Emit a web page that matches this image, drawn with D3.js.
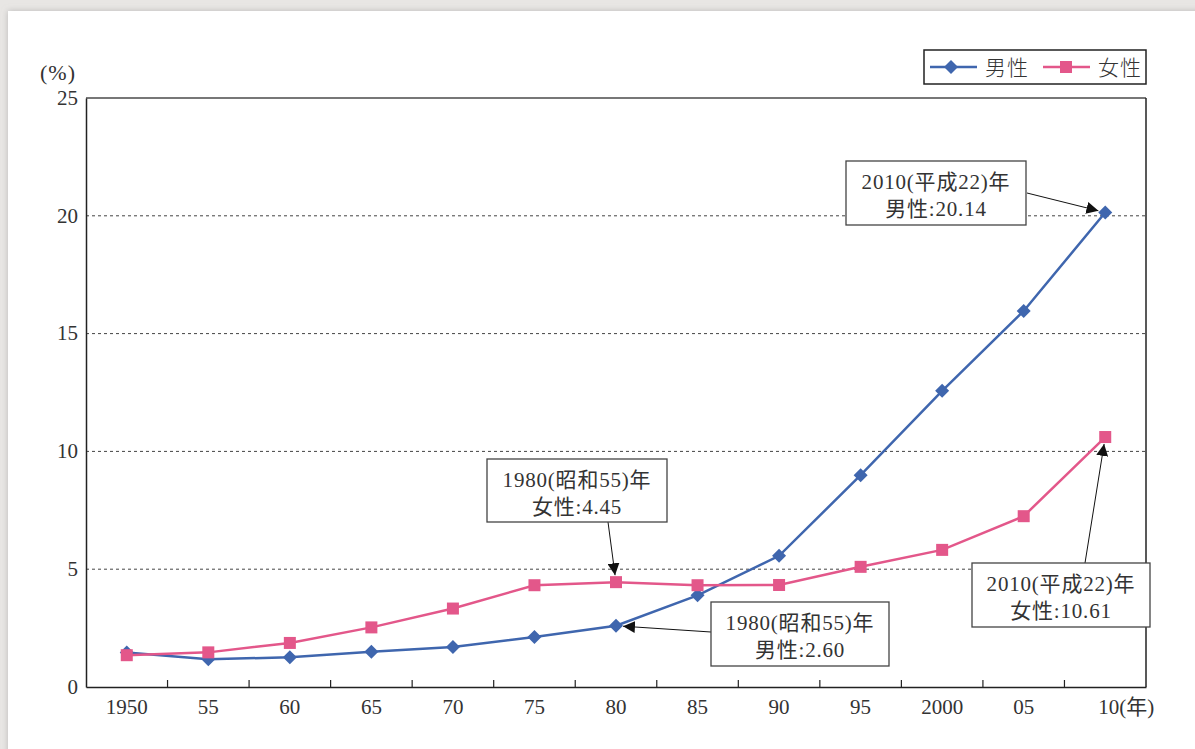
<!DOCTYPE html>
<html>
<head>
<meta charset="utf-8">
<script src="https://cdn.jsdelivr.net/npm/d3@7"></script>
<style>
  html, body { margin: 0; padding: 0; background: #e6e4e2; }
  svg { display: block; }
  text { font-family: "Liberation Serif", "DejaVu Serif", "Noto Sans CJK JP", serif; fill: #333; }
</style>
</head>
<body>
<svg id="chart" width="1195" height="749"></svg>
<script>
// Proportion never married by age 50 (%), census years
const years = ["1950", "55", "60", "65", "70", "75", "80", "85", "90", "95", "2000", "05", "10"];
const male = [1.46, 1.18, 1.26, 1.50, 1.70, 2.12, 2.60, 3.89, 5.57, 8.99, 12.57, 15.96, 20.14];
const female = [1.35, 1.47, 1.87, 2.53, 3.33, 4.32, 4.45, 4.32, 4.33, 5.10, 5.82, 7.25, 10.61];
const yTicks = [0, 5, 10, 15, 20, 25];
const seriesNames = ["男性", "女性"];

// Callouts: series index, year index, two text lines
const callouts = [
  { s: 0, i: 12, line1: "2010(平成22)年", line2: "男性:20.14" },
  { s: 1, i: 6, line1: "1980(昭和55)年", line2: "女性:4.45" },
  { s: 0, i: 6, line1: "1980(昭和55)年", line2: "男性:2.60" },
  { s: 1, i: 12, line1: "2010(平成22)年", line2: "女性:10.61" }
];

const colors = ["#3f66ae", "#e3578a"];
const svg = d3.select("#chart");

// paper sheet with soft shadow edge
const defs = svg.append("defs");
const sh = defs.append("filter").attr("id", "shadow").attr("x", "-5%").attr("y", "-5%").attr("width", "110%").attr("height", "110%");
sh.append("feDropShadow").attr("dx", 0).attr("dy", 0).attr("stdDeviation", 3).attr("flood-color", "#999").attr("flood-opacity", 0.6);
svg.append("rect").attr("x", 0).attr("y", 0).attr("width", 1195).attr("height", 749).attr("fill", "#e8e6e4");
svg.append("rect").attr("x", 8).attr("y", 11).attr("width", 1200).attr("height", 760).attr("fill", "#fff").attr("filter", "url(#shadow)");

const mk = defs.append("marker").attr("id", "arrow").attr("viewBox", "0 0 10 10")
  .attr("refX", 10).attr("refY", 5).attr("markerWidth", 12).attr("markerHeight", 12)
  .attr("markerUnits", "userSpaceOnUse").attr("orient", "auto");
mk.append("path").attr("d", "M0,0L10,5L0,10Z").attr("fill", "#111");

const plotL = 86, plotR = 1146, plotT = 98, plotB = 687;
const x = d3.scaleBand().domain(years).range([plotL, plotR]);
const y = d3.scaleLinear().domain([0, 25]).range([plotB, plotT]);
const cx = d => x(d) + x.bandwidth() / 2;

// dotted gridlines
svg.append("g").selectAll("line").data(yTicks.filter(t => t > 0 && t < 25)).join("line")
  .attr("x1", plotL).attr("x2", plotR).attr("y1", d => y(d)).attr("y2", d => y(d))
  .attr("stroke", "#444").attr("stroke-width", 1).attr("stroke-dasharray", "3,3");

// plot frame
svg.append("line").attr("x1", plotL).attr("x2", plotR).attr("y1", plotT).attr("y2", plotT).attr("stroke", "#777").attr("stroke-width", 2);
svg.append("line").attr("x1", plotR).attr("x2", plotR).attr("y1", plotT).attr("y2", plotB).attr("stroke", "#222").attr("stroke-width", 1.5);

// y axis
const yAxis = svg.append("g").attr("transform", `translate(${plotL},0)`)
  .call(d3.axisLeft(y).tickValues(yTicks).tickSize(0).tickPadding(8));
yAxis.select(".domain").attr("stroke", "#222").attr("stroke-width", 1.5);
yAxis.selectAll("text").attr("font-size", 21).attr("fill", "#333").attr("dy", "0.3em");

svg.append("text").attr("x", 58).attr("y", 80).attr("text-anchor", "middle").attr("font-size", 22)
  .attr("letter-spacing", 1).text("(%)");

// x axis: ticks sit on band boundaries and point into the plot
const xAxis = svg.append("g").attr("transform", `translate(0,${plotB})`)
  .call(d3.axisBottom(x).tickSize(0).tickPadding(12));
xAxis.select(".domain").attr("stroke", "#222").attr("stroke-width", 1.5);
xAxis.selectAll("text").attr("font-size", 21).attr("fill", "#333").attr("dy", "0.71em")
  .text(d => d === "10" ? "10(年)" : d)
  .attr("dx", d => d === "10" ? 21 : 0);
svg.append("g").selectAll("line").data(years.slice(1)).join("line")
  .attr("x1", d => x(d)).attr("x2", d => x(d)).attr("y1", plotB).attr("y2", plotB - 7)
  .attr("stroke", "#222").attr("stroke-width", 1.2);

// series
const data = [male, female];
const line = d3.line().x((d, i) => cx(years[i])).y(d => y(d));
data.forEach((vals, s) => {
  svg.append("path").datum(vals).attr("d", line).attr("fill", "none")
    .attr("stroke", colors[s]).attr("stroke-width", 2.5);
});
// markers: diamonds for men, squares for women
function drawMarker(g, s, px, py) {
  if (s === 0) {
    g.append("path").attr("d", `M${px},${py - 7}L${px + 7},${py}L${px},${py + 7}L${px - 7},${py}Z`).attr("fill", colors[0]);
  } else {
    g.append("rect").attr("x", px - 6).attr("y", py - 6).attr("width", 12).attr("height", 12).attr("fill", colors[1]);
  }
}
const mg = svg.append("g");
data.forEach((vals, s) => vals.forEach((v, i) => drawMarker(mg, s, cx(years[i]), y(v))));

// legend
const lg = svg.append("g");
lg.append("rect").attr("x", 924).attr("y", 50).attr("width", 222).attr("height", 34)
  .attr("fill", "#fff").attr("stroke", "#222").attr("stroke-width", 1.5);
[[930, 977, 951], [1043, 1090, 1066]].forEach(([x1, x2, m], s) => {
  lg.append("line").attr("x1", x1).attr("x2", x2).attr("y1", 67).attr("y2", 67).attr("stroke", colors[s]).attr("stroke-width", 2.5);
  drawMarker(lg, s, m, 67);
  lg.append("text").attr("x", x2 + 8).attr("y", 75).attr("font-size", 21)
    .attr("font-family", "Noto Sans CJK JP").attr("font-weight", 300).attr("letter-spacing", 1).text(seriesNames[s]);
});

// callout boxes with arrows pointing at the labelled point
const boxes = [
  { x: 846, y: 161, w: 180, h: 64, from: [1027, 193] },
  { x: 487, y: 459, w: 180, h: 63, from: [608, 522] },
  { x: 711, y: 602, w: 178, h: 64, from: [711, 632] },
  { x: 972, y: 563, w: 178, h: 64, from: [1085, 563] }
];
callouts.forEach((c, k) => {
  const b = boxes[k];
  const tx = cx(years[c.i]), ty = y(data[c.s][c.i]);
  const dx = tx - b.from[0], dy = ty - b.from[1], len = Math.hypot(dx, dy);
  const stop = 7;
  svg.append("line").attr("x1", b.from[0]).attr("y1", b.from[1])
    .attr("x2", tx - dx / len * stop).attr("y2", ty - dy / len * stop)
    .attr("stroke", "#111").attr("stroke-width", 1).attr("marker-end", "url(#arrow)");
  svg.append("rect").attr("x", b.x).attr("y", b.y).attr("width", b.w).attr("height", b.h)
    .attr("fill", "#fff").attr("stroke", "#444").attr("stroke-width", 1.3);
  svg.append("text").attr("x", b.x + b.w / 2).attr("y", b.y + 28).attr("text-anchor", "middle")
    .attr("font-size", 21).attr("letter-spacing", 0.8).text(c.line1);
  svg.append("text").attr("x", b.x + b.w / 2).attr("y", b.y + 55).attr("text-anchor", "middle")
    .attr("font-size", 21).attr("letter-spacing", 0.8).text(c.line2);
});
</script>
</body>
</html>
